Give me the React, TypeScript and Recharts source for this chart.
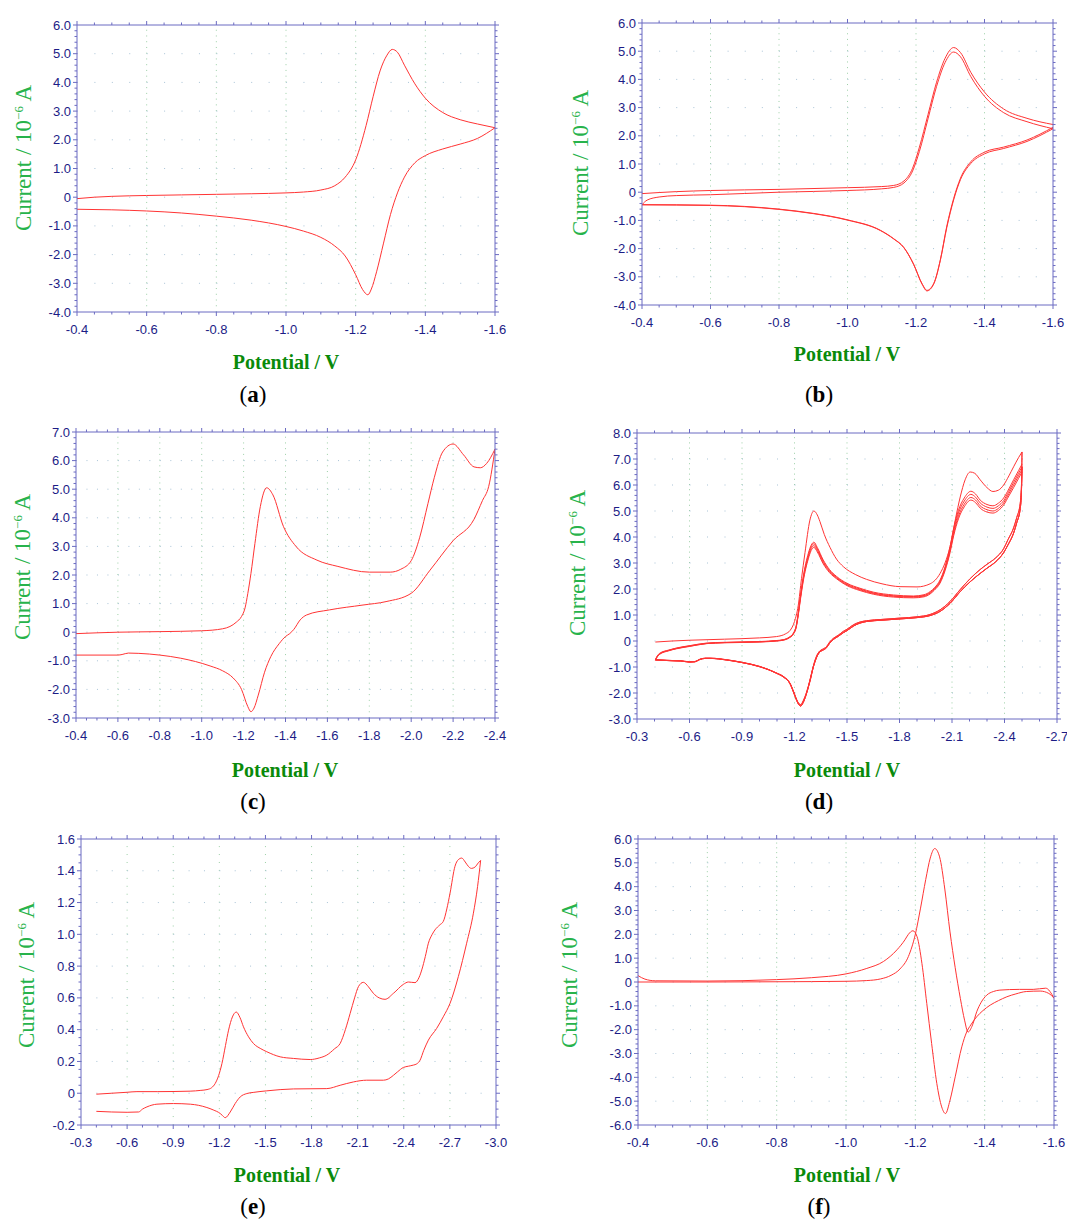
import React from "react";
import { LineChart, Line, XAxis, YAxis, ReferenceLine } from "recharts";

type Pt = [number, number];

const AXIS = "#6b6bc2";
const TICK_TXT = "#1c1c86";
const GRID = "#9ccfa6";
const RED = "#ff3434";

// ---------- (a) ----------
const aXTicks = [-0.4, -0.6, -0.8, -1.0, -1.2, -1.4, -1.6];
const aYTicks = [-4, -3, -2, -1, 0, 1, 2, 3, 4, 5, 6];
const aForward: Pt[] = [
  [-0.4, -0.05], [-0.45, 0.0], [-0.5, 0.03], [-0.6, 0.06], [-0.7, 0.08], [-0.8, 0.1], [-0.9, 0.12],
  [-1.0, 0.15], [-1.05, 0.18], [-1.1, 0.25], [-1.14, 0.4], [-1.17, 0.7], [-1.2, 1.3], [-1.23, 2.5],
  [-1.25, 3.5], [-1.27, 4.4], [-1.29, 4.95], [-1.305, 5.15], [-1.32, 5.05], [-1.34, 4.6], [-1.37, 3.95],
  [-1.4, 3.45], [-1.45, 2.95], [-1.5, 2.7], [-1.55, 2.55], [-1.6, 2.42],
];
const aReverse: Pt[] = [
  [-1.6, 2.42], [-1.55, 2.05], [-1.5, 1.85], [-1.45, 1.68], [-1.4, 1.45], [-1.37, 1.2], [-1.34, 0.7],
  [-1.32, 0.15], [-1.3, -0.6], [-1.28, -1.6], [-1.26, -2.6], [-1.245, -3.2], [-1.235, -3.4], [-1.22, -3.22],
  [-1.2, -2.7], [-1.17, -2.05], [-1.14, -1.7], [-1.1, -1.4], [-1.05, -1.18], [-1.0, -1.02], [-0.9, -0.8],
  [-0.8, -0.66], [-0.7, -0.55], [-0.6, -0.48], [-0.5, -0.44], [-0.4, -0.42],
];

// ---------- (b) ----------
const bXTicks = [-0.4, -0.6, -0.8, -1.0, -1.2, -1.4, -1.6];
const bYTicks = [-4, -3, -2, -1, 0, 1, 2, 3, 4, 5, 6];
const bForward1: Pt[] = [
  [-0.4, -0.05], [-0.5, 0.02], [-0.6, 0.06], [-0.8, 0.1], [-1.0, 0.16], [-1.1, 0.2], [-1.135, 0.24],
  [-1.165, 0.4], [-1.19, 0.85], [-1.21, 1.6], [-1.235, 2.75], [-1.26, 3.9], [-1.285, 4.75], [-1.31, 5.13],
  [-1.33, 4.95], [-1.36, 4.25], [-1.4, 3.55], [-1.456, 2.95], [-1.524, 2.62], [-1.6, 2.4],
];
const bReverse1: Pt[] = [
  [-1.6, 2.3], [-1.524, 1.85], [-1.456, 1.6], [-1.4, 1.42], [-1.36, 1.08], [-1.33, 0.5], [-1.31, -0.22],
  [-1.29, -1.2], [-1.271, -2.4], [-1.252, -3.23], [-1.232, -3.48], [-1.218, -3.25], [-1.193, -2.55],
  [-1.164, -1.95], [-1.135, -1.65], [-1.096, -1.35], [-1.0, -0.98], [-0.9, -0.75], [-0.8, -0.6],
  [-0.6, -0.46], [-0.4, -0.44],
];
const bForward2: Pt[] = [
  [-0.4, -0.44], [-0.415, -0.28], [-0.45, -0.17], [-0.5, -0.12], [-0.6, -0.09], [-0.8, 0.0], [-1.0, 0.06],
  [-1.1, 0.12], [-1.135, 0.17], [-1.165, 0.33], [-1.19, 0.75], [-1.21, 1.45], [-1.235, 2.6], [-1.26, 3.75],
  [-1.285, 4.6], [-1.31, 4.97], [-1.33, 4.8], [-1.36, 4.1], [-1.4, 3.4], [-1.456, 2.82], [-1.524, 2.5],
  [-1.6, 2.25],
];
const bReverse2: Pt[] = [
  [-1.6, 2.25], [-1.524, 1.8], [-1.456, 1.55], [-1.4, 1.36], [-1.36, 1.02], [-1.33, 0.45], [-1.31, -0.27],
  [-1.29, -1.25], [-1.271, -2.42], [-1.252, -3.25], [-1.232, -3.5], [-1.218, -3.27], [-1.193, -2.56],
  [-1.164, -1.96], [-1.135, -1.66], [-1.096, -1.36], [-1.0, -0.99], [-0.9, -0.76], [-0.8, -0.61],
  [-0.6, -0.47], [-0.4, -0.45],
];

// ---------- (c) ----------
const cXTicks = [-0.4, -0.6, -0.8, -1.0, -1.2, -1.4, -1.6, -1.8, -2.0, -2.2, -2.4];
const cYTicks = [-3, -2, -1, 0, 1, 2, 3, 4, 5, 6, 7];
const cForward: Pt[] = [
  [-0.4, -0.05], [-0.6, 0.0], [-0.8, 0.02], [-1.0, 0.05], [-1.1, 0.12], [-1.135, 0.2], [-1.165, 0.35],
  [-1.19, 0.55], [-1.207, 0.85], [-1.22, 1.35], [-1.235, 2.05], [-1.254, 3.1], [-1.28, 4.4], [-1.31, 5.05],
  [-1.34, 4.8], [-1.39, 3.7], [-1.45, 3.0], [-1.55, 2.52], [-1.65, 2.3], [-1.8, 2.1], [-1.9, 2.1],
  [-1.95, 2.2], [-2.0, 2.5], [-2.04, 3.3], [-2.08, 4.5], [-2.11, 5.4], [-2.15, 6.3], [-2.2, 6.58],
  [-2.25, 6.2], [-2.3, 5.78], [-2.33, 5.75], [-2.36, 5.9], [-2.4, 6.4],
];
const cReverse: Pt[] = [
  [-2.4, 6.4], [-2.37, 5.1], [-2.34, 4.6], [-2.3, 3.95], [-2.2, 3.2], [-2.09, 2.17], [-2.0, 1.36],
  [-1.88, 1.07], [-1.77, 0.95], [-1.61, 0.78], [-1.5, 0.6], [-1.47, 0.43], [-1.44, 0.1], [-1.42, -0.05],
  [-1.4, -0.15], [-1.37, -0.4], [-1.33, -0.85], [-1.3, -1.4], [-1.27, -2.2], [-1.25, -2.65], [-1.235, -2.78],
  [-1.22, -2.6], [-1.19, -2.0], [-1.15, -1.6], [-1.1, -1.35], [-1.04, -1.18], [-0.9, -0.91], [-0.8, -0.8],
  [-0.7, -0.74], [-0.65, -0.73], [-0.62, -0.78], [-0.6, -0.8], [-0.4, -0.8],
];

// ---------- (d) ----------
const dXTicks = [-0.3, -0.6, -0.9, -1.2, -1.5, -1.8, -2.1, -2.4, -2.7];
const dYTicks = [-3, -2, -1, 0, 1, 2, 3, 4, 5, 6, 7, 8];
const dForward1: Pt[] = [
  [-0.405, -0.04], [-0.5, 0.0], [-0.6, 0.03], [-0.8, 0.07], [-1.0, 0.12], [-1.097, 0.17], [-1.15, 0.28],
  [-1.174, 0.4], [-1.2, 0.75], [-1.221, 1.35], [-1.24, 2.4], [-1.26, 3.4], [-1.288, 4.65], [-1.311, 5.0],
  [-1.33, 4.85], [-1.345, 4.6], [-1.37, 4.1], [-1.403, 3.6], [-1.44, 3.15], [-1.479, 2.86], [-1.55, 2.55],
  [-1.612, 2.37], [-1.7, 2.2], [-1.803, 2.09], [-1.9, 2.08], [-1.975, 2.2], [-2.032, 2.6], [-2.06, 3.0],
  [-2.089, 3.63], [-2.12, 4.7], [-2.147, 5.54], [-2.175, 6.2], [-2.204, 6.5], [-2.23, 6.45], [-2.261, 6.2],
  [-2.3, 5.9], [-2.334, 5.75], [-2.365, 5.8], [-2.395, 6.0], [-2.425, 6.35], [-2.452, 6.7], [-2.48, 7.05],
  [-2.5, 7.27],
];
const dForward2: Pt[] = [
  [-0.405, -0.72], [-0.415, -0.58], [-0.43, -0.47], [-0.48, -0.35], [-0.525, -0.27], [-0.6, -0.18],
  [-0.697, -0.08], [-0.8, -0.05], [-1.002, -0.02], [-1.1, 0.02], [-1.136, 0.05], [-1.17, 0.15],
  [-1.193, 0.3], [-1.21, 0.6], [-1.221, 1.07], [-1.235, 1.8], [-1.25, 2.48], [-1.279, 3.37],
  [-1.295, 3.68], [-1.311, 3.8], [-1.33, 3.6], [-1.364, 3.12], [-1.4, 2.75], [-1.441, 2.48],
  [-1.5, 2.22], [-1.574, 2.03], [-1.65, 1.88], [-1.765, 1.77], [-1.88, 1.73], [-1.94, 1.78],
  [-1.975, 1.9], [-2.0, 2.05], [-2.032, 2.35], [-2.06, 2.85], [-2.089, 3.63], [-2.11, 4.35],
  [-2.137, 5.03], [-2.17, 5.5], [-2.208, 5.76], [-2.235, 5.65], [-2.261, 5.42], [-2.3, 5.25],
  [-2.334, 5.2], [-2.365, 5.3], [-2.395, 5.5], [-2.425, 5.85], [-2.452, 6.2], [-2.48, 6.55], [-2.5, 6.8],
];
const dForward3: Pt[] = [
  [-0.405, -0.73], [-0.415, -0.6], [-0.43, -0.49], [-0.48, -0.36], [-0.525, -0.28], [-0.6, -0.19],
  [-0.697, -0.09], [-0.8, -0.06], [-1.002, -0.03], [-1.1, 0.01], [-1.136, 0.04], [-1.17, 0.14],
  [-1.193, 0.28], [-1.21, 0.57], [-1.221, 1.03], [-1.235, 1.75], [-1.25, 2.42], [-1.279, 3.3],
  [-1.295, 3.62], [-1.311, 3.74], [-1.33, 3.55], [-1.364, 3.07], [-1.4, 2.71], [-1.441, 2.45],
  [-1.5, 2.19], [-1.574, 2.0], [-1.65, 1.85], [-1.765, 1.74], [-1.88, 1.71], [-1.94, 1.75],
  [-1.975, 1.87], [-2.0, 2.02], [-2.032, 2.31], [-2.06, 2.8], [-2.089, 3.55], [-2.11, 4.25],
  [-2.137, 4.92], [-2.17, 5.38], [-2.208, 5.64], [-2.235, 5.53], [-2.261, 5.31], [-2.3, 5.15],
  [-2.334, 5.1], [-2.365, 5.2], [-2.395, 5.4], [-2.425, 5.76], [-2.452, 6.1], [-2.48, 6.45], [-2.5, 6.7],
];
const dForward4: Pt[] = [
  [-0.405, -0.73], [-0.415, -0.61], [-0.43, -0.5], [-0.48, -0.37], [-0.525, -0.29], [-0.6, -0.2],
  [-0.697, -0.1], [-0.8, -0.06], [-1.002, -0.03], [-1.1, 0.01], [-1.136, 0.04], [-1.17, 0.13],
  [-1.193, 0.27], [-1.21, 0.55], [-1.221, 1.0], [-1.235, 1.7], [-1.25, 2.36], [-1.279, 3.23],
  [-1.295, 3.55], [-1.311, 3.67], [-1.33, 3.49], [-1.364, 3.02], [-1.4, 2.67], [-1.441, 2.42],
  [-1.5, 2.16], [-1.574, 1.97], [-1.65, 1.83], [-1.765, 1.72], [-1.88, 1.69], [-1.94, 1.73],
  [-1.975, 1.84], [-2.0, 1.99], [-2.032, 2.27], [-2.06, 2.75], [-2.089, 3.47], [-2.11, 4.15],
  [-2.137, 4.8], [-2.17, 5.26], [-2.208, 5.52], [-2.235, 5.42], [-2.261, 5.2], [-2.3, 5.05],
  [-2.334, 5.0], [-2.365, 5.1], [-2.395, 5.31], [-2.425, 5.67], [-2.452, 6.0], [-2.48, 6.35], [-2.5, 6.6],
];
const dForward5: Pt[] = [
  [-0.405, -0.74], [-0.415, -0.62], [-0.43, -0.51], [-0.48, -0.38], [-0.525, -0.3], [-0.6, -0.21],
  [-0.697, -0.1], [-0.8, -0.07], [-1.002, -0.04], [-1.1, 0.0], [-1.136, 0.03], [-1.17, 0.12],
  [-1.193, 0.26], [-1.21, 0.53], [-1.221, 0.97], [-1.235, 1.65], [-1.25, 2.3], [-1.279, 3.16],
  [-1.295, 3.48], [-1.311, 3.6], [-1.33, 3.43], [-1.364, 2.97], [-1.4, 2.63], [-1.441, 2.39],
  [-1.5, 2.13], [-1.574, 1.94], [-1.65, 1.8], [-1.765, 1.69], [-1.88, 1.66], [-1.94, 1.7],
  [-1.975, 1.81], [-2.0, 1.96], [-2.032, 2.23], [-2.06, 2.7], [-2.089, 3.4], [-2.11, 4.06],
  [-2.137, 4.7], [-2.17, 5.16], [-2.208, 5.42], [-2.235, 5.32], [-2.261, 5.11], [-2.3, 4.96],
  [-2.334, 4.92], [-2.365, 5.02], [-2.395, 5.23], [-2.425, 5.58], [-2.452, 5.9], [-2.48, 6.25], [-2.5, 6.5],
];
const dReverseA: Pt[] = [
  [-2.5, 7.27], [-2.497, 6.0], [-2.49, 5.3], [-2.47, 4.75], [-2.452, 4.35], [-2.42, 3.9], [-2.395, 3.55],
  [-2.35, 3.2], [-2.3, 2.95], [-2.261, 2.75], [-2.204, 2.4], [-2.147, 1.98], [-2.089, 1.52], [-2.032, 1.2],
  [-1.975, 1.02], [-1.9, 0.93], [-1.803, 0.88], [-1.7, 0.83], [-1.612, 0.78], [-1.57, 0.72], [-1.536, 0.62],
  [-1.5, 0.45], [-1.479, 0.37], [-1.45, 0.22], [-1.422, 0.1], [-1.4, -0.05], [-1.384, -0.21], [-1.36, -0.32],
  [-1.345, -0.38], [-1.325, -0.6], [-1.307, -0.98], [-1.29, -1.45], [-1.279, -1.74], [-1.265, -2.05],
  [-1.25, -2.3], [-1.235, -2.45], [-1.222, -2.38], [-1.212, -2.25], [-1.195, -1.95], [-1.174, -1.62],
  [-1.14, -1.38], [-1.097, -1.23], [-1.002, -0.98], [-0.9, -0.82], [-0.811, -0.72], [-0.72, -0.66],
  [-0.69, -0.66], [-0.66, -0.7], [-0.63, -0.79], [-0.6, -0.8], [-0.55, -0.76], [-0.5, -0.75], [-0.405, -0.72],
];
const dReverseB: Pt[] = [
  [-2.5, 6.7], [-2.497, 5.8], [-2.49, 5.1], [-2.47, 4.55], [-2.452, 4.15], [-2.42, 3.7], [-2.395, 3.4],
  [-2.35, 3.05], [-2.3, 2.8], [-2.261, 2.6], [-2.204, 2.28], [-2.147, 1.9], [-2.089, 1.45], [-2.032, 1.14],
  [-1.975, 0.98], [-1.9, 0.9], [-1.803, 0.85], [-1.7, 0.8], [-1.612, 0.75], [-1.57, 0.68], [-1.536, 0.57],
  [-1.5, 0.4], [-1.479, 0.32], [-1.45, 0.18], [-1.422, 0.06], [-1.4, -0.09], [-1.384, -0.25], [-1.36, -0.36],
  [-1.345, -0.42], [-1.325, -0.65], [-1.307, -1.02], [-1.29, -1.5], [-1.279, -1.78], [-1.265, -2.1],
  [-1.25, -2.36], [-1.235, -2.5], [-1.222, -2.42], [-1.212, -2.28], [-1.195, -1.98], [-1.174, -1.64],
  [-1.14, -1.4], [-1.097, -1.24], [-1.002, -0.99], [-0.9, -0.83], [-0.811, -0.73], [-0.72, -0.67],
  [-0.69, -0.67], [-0.66, -0.71], [-0.63, -0.8], [-0.6, -0.81], [-0.55, -0.77], [-0.5, -0.76], [-0.405, -0.73],
];

// ---------- (e) ----------
const eXTicks = [-0.3, -0.6, -0.9, -1.2, -1.5, -1.8, -2.1, -2.4, -2.7, -3.0];
const eYTicks = [-0.2, 0, 0.2, 0.4, 0.6, 0.8, 1.0, 1.2, 1.4, 1.6];
const eForward: Pt[] = [
  [-0.4, -0.006], [-0.5, 0.0], [-0.6, 0.006], [-0.664, 0.01], [-0.8, 0.01], [-1.01, 0.013], [-1.08, 0.018],
  [-1.12, 0.023], [-1.15, 0.035], [-1.173, 0.061], [-1.195, 0.11], [-1.217, 0.187], [-1.24, 0.3],
  [-1.26, 0.397], [-1.285, 0.48], [-1.31, 0.511], [-1.335, 0.475], [-1.357, 0.418], [-1.39, 0.355],
  [-1.422, 0.313], [-1.47, 0.28], [-1.509, 0.261], [-1.596, 0.229], [-1.682, 0.219], [-1.791, 0.212],
  [-1.85, 0.222], [-1.899, 0.24], [-1.95, 0.28], [-1.986, 0.313], [-2.02, 0.4], [-2.051, 0.502],
  [-2.08, 0.6], [-2.105, 0.671], [-2.137, 0.698], [-2.17, 0.67], [-2.202, 0.629], [-2.24, 0.6],
  [-2.278, 0.591], [-2.333, 0.629], [-2.397, 0.685], [-2.43, 0.7], [-2.473, 0.696], [-2.5, 0.73],
  [-2.517, 0.776], [-2.54, 0.86], [-2.56, 0.944], [-2.585, 1.0], [-2.603, 1.028], [-2.635, 1.06],
  [-2.657, 1.081], [-2.68, 1.16], [-2.701, 1.259], [-2.733, 1.428], [-2.755, 1.47], [-2.777, 1.48],
  [-2.8, 1.455], [-2.82, 1.428], [-2.84, 1.415], [-2.863, 1.423], [-2.885, 1.45], [-2.9, 1.465],
];
const eReverse: Pt[] = [
  [-2.9, 1.465], [-2.88, 1.3], [-2.853, 1.133], [-2.809, 0.944], [-2.755, 0.734], [-2.701, 0.566],
  [-2.657, 0.481], [-2.614, 0.408], [-2.56, 0.334], [-2.53, 0.27], [-2.506, 0.208], [-2.485, 0.185],
  [-2.462, 0.177], [-2.43, 0.17], [-2.397, 0.162], [-2.36, 0.135], [-2.333, 0.113], [-2.3, 0.09],
  [-2.268, 0.082], [-2.159, 0.082], [-2.072, 0.071], [-1.986, 0.05], [-1.899, 0.029], [-1.682, 0.027],
  [-1.509, 0.015], [-1.42, 0.005], [-1.379, -0.002], [-1.336, -0.023], [-1.303, -0.065], [-1.271, -0.118],
  [-1.238, -0.154], [-1.22, -0.14], [-1.206, -0.128], [-1.16, -0.105], [-1.119, -0.09], [-1.011, -0.069],
  [-0.902, -0.065], [-0.794, -0.069], [-0.729, -0.086], [-0.7, -0.1], [-0.675, -0.118], [-0.6, -0.12],
  [-0.4, -0.114],
];

// ---------- (f) ----------
const fXTicks = [-0.4, -0.6, -0.8, -1.0, -1.2, -1.4, -1.6];
const fYTicks = [-6, -5, -4, -3, -2, -1, 0, 1, 2, 3, 4, 5, 6];
const fForward: Pt[] = [
  [-0.4, 0.0], [-0.6, 0.0], [-0.8, 0.01], [-1.0, 0.03], [-1.06, 0.06], [-1.1, 0.13], [-1.13, 0.28],
  [-1.156, 0.55], [-1.18, 1.07], [-1.2, 2.0], [-1.215, 3.1], [-1.23, 4.3], [-1.243, 5.2], [-1.256, 5.6],
  [-1.27, 5.25], [-1.285, 3.9], [-1.3, 2.1], [-1.315, 0.6], [-1.33, -0.7], [-1.342, -1.6], [-1.352, -2.1],
  [-1.365, -1.8], [-1.377, -1.25], [-1.39, -0.85], [-1.406, -0.55], [-1.425, -0.4], [-1.444, -0.34],
  [-1.5, -0.31], [-1.54, -0.31], [-1.576, -0.26], [-1.6, -0.68],
];
const fReverse: Pt[] = [
  [-1.6, -0.68], [-1.585, -0.48], [-1.56, -0.38], [-1.52, -0.4], [-1.49, -0.5], [-1.464, -0.62],
  [-1.44, -0.78], [-1.416, -0.97], [-1.395, -1.2], [-1.377, -1.46], [-1.36, -1.8], [-1.348, -2.1],
  [-1.334, -2.72], [-1.315, -3.98], [-1.3, -4.96], [-1.287, -5.52], [-1.276, -5.24], [-1.262, -4.26],
  [-1.247, -2.58], [-1.233, -0.9], [-1.219, 0.78], [-1.205, 1.9], [-1.193, 2.15], [-1.18, 2.0],
  [-1.17, 1.77], [-1.147, 1.35], [-1.108, 0.86], [-1.06, 0.57], [-1.0, 0.34], [-0.9, 0.18], [-0.8, 0.1],
  [-0.6, 0.04], [-0.45, 0.05], [-0.42, 0.12], [-0.4, 0.27],
];

interface PanelCfg {
  tag: string;
  box: [number, number, number, number]; // plot area left, top, right, bottom in page px
  xTicks: number[];
  xMinor: number;
  yTicks: number[];
  yMinor: number;
  traces: Pt[][];
  yLabelAt: [number, number];
  xLabelAt: [number, number];
  captionAt: [number, number];
}

const panels: PanelCfg[] = [
  {
    tag: "a", box: [77, 25, 495, 312], xTicks: aXTicks, xMinor: 0.05, yTicks: aYTicks, yMinor: 0.2,
    traces: [aForward, aReverse], yLabelAt: [21, 158], xLabelAt: [286, 362], captionAt: [253, 395],
  },
  {
    tag: "b", box: [642, 23, 1053, 305], xTicks: bXTicks, xMinor: 0.05, yTicks: bYTicks, yMinor: 0.2,
    traces: [bForward1, bReverse1, bForward2, bReverse2], yLabelAt: [578, 163], xLabelAt: [847, 354], captionAt: [819, 395],
  },
  {
    tag: "c", box: [76, 432, 495, 718], xTicks: cXTicks, xMinor: 0.05, yTicks: cYTicks, yMinor: 0.2,
    traces: [cForward, cReverse], yLabelAt: [20, 567], xLabelAt: [285, 770], captionAt: [253, 802],
  },
  {
    tag: "d", box: [637, 433, 1057, 719], xTicks: dXTicks, xMinor: 0.1, yTicks: dYTicks, yMinor: 0.2,
    traces: [dForward1, dReverseA, dForward2, dReverseB, dForward3, dReverseA, dForward4, dReverseB, dForward5, dReverseB],
    yLabelAt: [575, 563], xLabelAt: [847, 770], captionAt: [819, 802],
  },
  {
    tag: "e", box: [81, 839, 496, 1125], xTicks: eXTicks, xMinor: 0.1, yTicks: eYTicks, yMinor: 0.05,
    traces: [eForward, eReverse], yLabelAt: [24, 975], xLabelAt: [287, 1175], captionAt: [253, 1207],
  },
  {
    tag: "f", box: [638, 839, 1054, 1125], xTicks: fXTicks, xMinor: 0.05, yTicks: fYTicks, yMinor: 0.2,
    traces: [fForward, fReverse], yLabelAt: [567, 975], xLabelAt: [847, 1175], captionAt: [819, 1207],
  },
];

const r3 = (v: number) => Math.round(v * 1000) / 1000;
const minorTicks = (ticks: number[], step: number) => {
  const lo = Math.min(...ticks);
  const hi = Math.max(...ticks);
  const out: number[] = [];
  for (let k = 0; lo + k * step <= hi + 1e-9; k++) out.push(r3(lo + k * step));
  return out;
};
const isMajor = (v: number, majors: number[]) => majors.some((m) => Math.abs(m - v) < 1e-6);
const fmt = (v: number) => (Math.abs(v) < 1e-9 ? "0" : v.toFixed(1));
const rows = (pts: Pt[]) => pts.map(([v, i]) => ({ v, i }));

const makeTick = (side: "bottom" | "top" | "left" | "right", majors: number[]) => (p: any) => {
  const { x, y, payload } = p;
  const v = payload.value as number;
  const major = isMajor(v, majors);
  const len = major ? 4 : 2.5;
  const txt = { fontFamily: "Liberation Sans, Arial, sans-serif", fontSize: 13, fill: TICK_TXT };
  if (side === "bottom")
    return (
      <g>
        <line x1={x} y1={y} x2={x} y2={y + len} stroke={AXIS} />
        {major && (
          <text x={x} y={y + 22} textAnchor="middle" style={txt}>
            {fmt(v)}
          </text>
        )}
      </g>
    );
  if (side === "top") return <line x1={x} y1={y} x2={x} y2={y - len} stroke={AXIS} />;
  if (side === "right") return <line x1={x} y1={y} x2={x + len} y2={y} stroke={AXIS} />;
  return (
    <g>
      <line x1={x} y1={y} x2={x - len} y2={y} stroke={AXIS} />
      {major && (
        <text x={x - 6} y={y + 4.5} textAnchor="end" style={txt}>
          {fmt(v)}
        </text>
      )}
    </g>
  );
};

function Panel({ cfg }: { cfg: PanelCfg }) {
  const [L, T, R, B] = cfg.box;
  // outer margins; every axis takes 1px of its own
  const ml = 60, mt = 12, mr = 16, mb = 32;
  const xDom: [number, number] = [Math.min(...cfg.xTicks), Math.max(...cfg.xTicks)];
  const yDom: [number, number] = [Math.min(...cfg.yTicks), Math.max(...cfg.yTicks)];
  const xAll = minorTicks(cfg.xTicks, cfg.xMinor);
  const yAll = minorTicks(cfg.yTicks, cfg.yMinor);
  const xMinorPx = ((R - L) * cfg.xMinor) / (xDom[1] - xDom[0]);
  const yMinorPx = ((B - T) * cfg.yMinor) / (yDom[1] - yDom[0]);
  const innerX = cfg.xTicks.filter((v) => v !== xDom[0] && v !== xDom[1]);
  const innerY = cfg.yTicks.filter((v) => v !== yDom[0] && v !== yDom[1]);
  return (
    <div style={{ position: "absolute", left: L - ml, top: T - mt }}>
      <LineChart
        width={R - L + ml + mr}
        height={B - T + mt + mb}
        margin={{ top: mt - 1, right: mr - 1, bottom: mb - 1, left: ml - 1 }}
      >
        <XAxis
          type="number" dataKey="v" domain={xDom} reversed allowDataOverflow ticks={xAll} interval={0}
          height={1} tickSize={0} tickMargin={0} tickLine={false} axisLine={{ stroke: AXIS }}
          tick={makeTick("bottom", cfg.xTicks)}
        />
        <XAxis
          xAxisId="top" orientation="top" type="number" dataKey="v" domain={xDom} reversed allowDataOverflow
          ticks={xAll} interval={0} height={1} tickSize={0} tickMargin={0} tickLine={false}
          axisLine={{ stroke: AXIS }} tick={makeTick("top", cfg.xTicks)}
        />
        <YAxis
          type="number" dataKey="i" domain={yDom} allowDataOverflow ticks={yAll} interval={0}
          width={1} tickSize={0} tickMargin={0} tickLine={false} axisLine={{ stroke: AXIS }}
          tick={makeTick("left", cfg.yTicks)}
        />
        <YAxis
          yAxisId="right" orientation="right" type="number" dataKey="i" domain={yDom} allowDataOverflow
          ticks={yAll} interval={0} width={1} tickSize={0} tickMargin={0} tickLine={false}
          axisLine={{ stroke: AXIS }} tick={makeTick("right", cfg.yTicks)}
        />
        {innerX.map((v) => (
          <ReferenceLine key={"gx" + v} x={v} stroke={GRID} strokeWidth={1} strokeDasharray={`1 ${(yMinorPx - 1).toFixed(2)}`} />
        ))}
        {innerY.map((v) => (
          <ReferenceLine key={"gy" + v} y={v} stroke="#a9c3d6" strokeWidth={1} strokeDasharray={`1 ${(xMinorPx - 1).toFixed(2)}`} />
        ))}
        {cfg.traces.map((tr, k) => (
          <Line
            key={cfg.tag + k} data={rows(tr)} dataKey="i" type="monotone" stroke={RED} strokeWidth={1}
            dot={false} activeDot={false} isAnimationActive={false}
          />
        ))}
      </LineChart>
    </div>
  );
}

export default function App() {
  return (
    <div style={{ position: "absolute", left: 0, top: 0, width: 1067, height: 1223, background: "#fff", fontFamily: "Liberation Serif, serif" }}>
      {panels.map((cfg) => (
        <React.Fragment key={cfg.tag}>
          <Panel cfg={cfg} />
          <div
            style={{
              position: "absolute", left: cfg.yLabelAt[0], top: cfg.yLabelAt[1], whiteSpace: "nowrap",
              transform: "translate(-50%, -50%) rotate(-90deg)", color: "#27b34b", fontSize: 23, lineHeight: "26px",
            }}
          >
            Current / 10<sup style={{ fontSize: 13, verticalAlign: "8px" }}>−6</sup> A
          </div>
          <div
            style={{
              position: "absolute", left: cfg.xLabelAt[0], top: cfg.xLabelAt[1], whiteSpace: "nowrap",
              transform: "translate(-50%, -50%)", color: "#0a8a0a", fontSize: 20, fontWeight: "bold",
            }}
          >
            Potential / V
          </div>
          <div
            style={{
              position: "absolute", left: cfg.captionAt[0], top: cfg.captionAt[1], whiteSpace: "nowrap",
              transform: "translate(-50%, -50%)", color: "#000", fontSize: 23,
            }}
          >
            (<b>{cfg.tag}</b>)
          </div>
        </React.Fragment>
      ))}
    </div>
  );
}
